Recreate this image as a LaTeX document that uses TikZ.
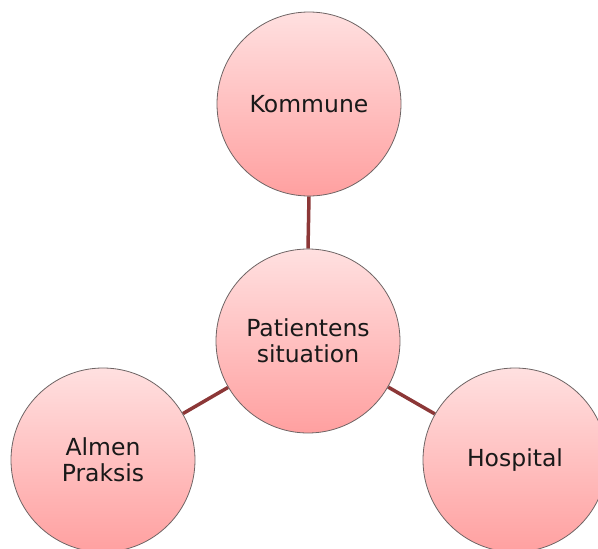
\documentclass[tikz,border=0pt]{standalone}
\usepackage{fontspec}
\setmainfont{DejaVu Sans}
\usetikzlibrary{backgrounds}
\definecolor{circtop}{RGB}{255,224,224}
\definecolor{circbot}{RGB}{255,160,160}
\definecolor{circedge}{RGB}{110,100,100}
\definecolor{linkred}{RGB}{140,55,55}
\begin{document}
\begin{tikzpicture}[x=1pt,y=-1pt,
  bubble/.style={circle, minimum size=184pt, inner sep=0pt, draw=circedge, line width=0.8pt,
    top color=circtop, bottom color=circbot, align=center,
    font=\fontsize{23.5}{26}\selectfont, text=black!90},
  link/.style={draw=linkred, line width=3.5pt}]
\useasboundingbox (0,0) rectangle (598,549);
\clip (0,0) rectangle (598,549);
\node[bubble] (kom) at (309,104) {Kommune};
\node[bubble] (pat) at (308,341) {Patientens\\situation};
\node[bubble] (alm) at (103,460) {Almen\\Praksis};
\node[bubble] (hos) at (515,460) {Hospital};
\begin{scope}[on background layer]
\draw[link] (kom.south) -- (pat.north);
\draw[link] (pat) -- (alm);
\draw[link] (pat) -- (hos);
\end{scope}
\end{tikzpicture}
\end{document}
